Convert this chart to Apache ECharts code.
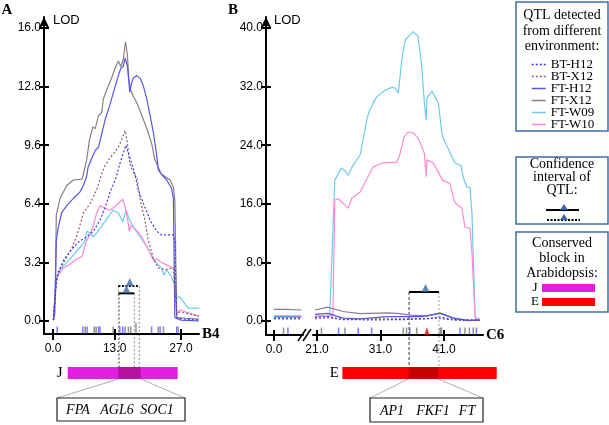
<!DOCTYPE html>
<html><head><meta charset="utf-8">
<script src="https://cdn.jsdelivr.net/npm/echarts@6/dist/echarts.min.js"></script>
<style>html,body{margin:0;padding:0;background:#fff}#c{width:609px;height:425px}</style>
</head><body><div id="c"></div>
<script>
// ===== DATA =====
const seriesNames = ['BT-H12','BT-X12','FT-H12','FT-X12','FT-W09','FT-W10'];
// Panel A (B4) : [cM, LOD]
const A_BT_H12 = [[0.1,0.05],[0.8,2.4],[2.2,3.3],[3.9,3.9],[5.3,4.3],[7.1,4.6],[8.5,4.9],[9.9,5.5],[11.0,6.2],[12.0,7.0],[13.4,7.9],[14.1,8.6],[14.8,9.15],[15.4,9.6],[15.9,9.15],[16.6,8.6],[17.3,8.0],[18.0,7.15],[19.1,6.4],[20.5,5.5],[21.9,4.9],[22.9,4.7],[25.4,4.7],[25.7,4.3],[26.1,0.15],[28.0,0.1],[30.8,0.05]];
const A_BT_X12 = [[0.1,0.05],[0.5,1.7],[1.1,2.7],[2.5,3.3],[4.0,4.0],[5.1,4.7],[6.4,5.9],[7.8,6.4],[9.2,7.15],[10.3,8.05],[11.0,8.5],[12.0,8.9],[13.1,9.25],[13.8,9.5],[14.5,9.9],[15.2,10.4],[15.7,9.7],[16.2,8.6],[16.9,8.15],[17.7,7.8],[18.4,6.6],[19.4,5.5],[20.1,4.4],[21.2,3.4],[22.2,2.9],[23.6,2.8],[25.4,2.9],[26.1,0.4],[26.8,0.5],[30.8,0.27]];
const A_FT_H12 = [[0.1,0.05],[0.5,1.7],[0.7,4.4],[1.1,5.1],[1.8,5.9],[2.9,6.3],[4.3,6.7],[5.7,7.05],[6.4,7.4],[7.1,7.9],[7.4,8.4],[8.2,8.9],[8.9,9.3],[9.6,9.5],[10.3,10.25],[11.0,11.0],[12.0,11.8],[13.1,12.8],[13.8,13.4],[14.3,13.8],[14.8,13.9],[15.2,14.35],[15.7,13.9],[16.2,12.5],[16.6,13.0],[16.9,13.25],[17.7,13.4],[18.4,13.25],[19.1,12.8],[19.8,12.1],[20.5,11.2],[21.2,10.25],[21.9,9.0],[22.2,8.25],[22.9,8.0],[24.0,7.7],[25.0,7.25],[25.4,6.7],[25.7,0.2],[27.0,0.05],[30.8,0.0]];
const A_FT_X12 = [[0.06,0.05],[0.4,0.4],[0.7,5.8],[1.5,6.7],[2.9,7.4],[4.3,7.7],[6.1,7.75],[6.4,8.0],[7.1,8.8],[7.7,9.9],[8.4,10.6],[8.9,10.5],[9.6,11.2],[10.3,11.4],[10.6,12.1],[11.3,12.6],[12.4,13.3],[13.1,13.8],[13.8,14.2],[14.3,13.9],[14.8,14.25],[15.3,15.25],[15.7,14.5],[16.0,13.2],[16.4,12.6],[16.9,12.3],[17.7,11.9],[18.7,11.25],[19.8,10.5],[20.8,9.7],[21.5,8.8],[22.2,8.4],[22.9,8.0],[23.6,7.9],[24.7,7.7],[25.4,7.3],[25.7,6.6],[26.1,0.2],[28.0,0.15],[30.8,0.1]];
const A_FT_W09 = [[0.05,0.05],[0.4,1.15],[0.8,2.35],[1.5,2.8],[2.9,3.2],[4.3,3.6],[6.1,4.15],[6.8,4.4],[7.1,4.9],[7.8,4.8],[8.5,4.6],[9.2,4.8],[10.6,5.3],[11.7,5.7],[12.7,6.05],[13.8,5.9],[14.7,5.4],[15.4,6.05],[16.2,5.5],[17.3,5.0],[18.4,4.6],[19.8,4.05],[21.2,3.4],[22.2,3.05],[22.9,2.9],[23.4,2.5],[24.0,2.8],[25.0,2.4],[25.7,1.95],[26.1,1.3],[26.8,1.3],[27.2,1.4],[27.8,0.95],[28.5,0.7],[30.9,0.7]];
const A_FT_W10 = [[0.1,0.05],[0.5,1.7],[0.8,2.4],[2.2,2.9],[3.6,3.1],[5.0,3.4],[6.1,3.5],[6.4,3.8],[7.1,4.4],[7.8,4.7],[8.5,5.2],[9.2,5.9],[9.9,6.3],[11.0,6.15],[12.0,6.05],[13.1,6.25],[14.1,6.5],[14.7,6.65],[15.2,6.25],[15.7,5.6],[16.1,4.9],[16.4,5.2],[17.3,5.05],[18.4,4.7],[19.4,4.25],[20.5,3.7],[21.2,3.3],[21.9,3.4],[22.6,3.25],[24.0,3.05],[25.4,2.9],[25.7,2.7],[26.1,0.4],[26.8,0.6],[30.8,0.25]];
// Panel B (C6), left segment (0 - 4.3 cM)
const BL_BT_H12 = [[0,0.4],[4.3,0.4]];
const BL_BT_X12 = [[0,0.3],[4.3,0.3]];
const BL_FT_H12 = [[0,0.55],[4.3,0.55]];
const BL_FT_X12 = [[0,1.6],[2.0,1.6],[4.3,1.5]];
const BL_FT_W09 = [[0,0.65],[4.3,0.65]];
const BL_FT_W10 = [[0,0.75],[4.3,0.7]];
// Panel B (C6), right segment (20.7 - 46.6 cM)
const BR_BT_H12 = [[20.7,0.5],[22.7,0.6],[25.0,0.2],[30.0,0.15],[35.0,0.2],[38.0,0.3],[40.2,0.55],[42.5,0.2],[46.6,0.1]];
const BR_BT_X12 = [[20.7,0.3],[22.7,0.45],[25.0,0.25],[30.0,0.3],[35.0,0.3],[40.0,0.35],[43.0,0.1],[46.6,0.1]];
const BR_FT_H12 = [[20.7,0.9],[22.7,1.05],[25.1,0.4],[27.8,0.3],[32.1,0.6],[35.7,0.6],[37.5,0.6],[40.4,1.05],[42.5,0.4],[44.7,0.05],[46.6,0.15]];
const BR_FT_X12 = [[20.7,1.5],[22.7,1.9],[25.1,1.3],[27.8,1.0],[32.1,1.1],[34.1,1.0],[35.7,0.8],[38.4,0.7],[40.4,1.1],[42.5,0.4],[44.7,0.1],[46.6,0.1]];
const BR_FT_W09 = [[20.7,0.6],[23.0,0.7],[23.8,19.2],[24.8,20.9],[25.4,20.5],[25.9,19.9],[26.5,21.0],[27.8,22.7],[28.9,27.7],[29.3,28.8],[30.4,30.6],[31.7,31.5],[32.8,31.9],[33.3,31.8],[33.8,31.1],[34.4,36.0],[34.9,38.4],[35.6,39.0],[36.1,39.5],[36.9,38.9],[37.5,34.7],[37.9,29.8],[38.2,27.4],[38.3,30.4],[39.1,31.4],[40.1,29.8],[40.7,25.4],[41.5,23.8],[41.8,24.0],[42.7,21.6],[43.7,21.2],[44.0,19.7],[44.6,18.3],[45.1,18.2],[45.4,14.7],[45.9,0.5],[46.2,0.1],[46.6,0.35]];
const BR_FT_W10 = [[20.7,0.7],[23.5,0.7],[23.8,16.5],[24.3,16.7],[25.1,16.1],[25.9,15.4],[26.5,16.8],[27.8,17.6],[28.9,19.5],[29.8,21.0],[31.4,21.6],[33.6,21.7],[34.1,22.9],[34.7,25.1],[35.3,25.8],[36.1,25.7],[36.9,25.0],[37.5,23.8],[37.9,22.9],[38.2,19.7],[38.3,22.0],[39.3,21.6],[39.9,20.6],[40.8,19.2],[41.9,18.8],[42.7,16.2],[43.8,15.4],[44.3,12.8],[45.1,12.7],[45.4,9.3],[45.9,0.5],[46.6,0.2]];
// Markers (cM)
const A_markBlue = [0.9,6.3,7.2,9.6,9.9,14.1,14.7,15.2,20.8,22.6,26.1];
const A_markGray = [6.8,8.7,9.1,12.7,15.9,16.4,22.2,23.3,26.4];
const A_markTall = [17.5];
const BL_markBlue = [2.2];
const BL_markGray = [1.5];
const BR_markBlue = [24.4,27.5,29.6,35.6,43.5,46.1];
const BR_markGray = [21.7,25.4,34.6,35.1,36.7,40.4,40.6,44.3,45.0,45.6];
const BR_markRed = [38.3];
// Confidence intervals [start, end, LOD level, peak]
const A_CI_FT = [13.8, 17.15, 1.51, 15.5];
const A_CI_BT = [13.8, 18.2, 1.91, 16.2];
const B_CI_FT = [35.5, 40.2, 3.96, 38.1];
// Conserved blocks [start, end] and highlighted part (cM)
const blockJ = [3.1, 26.3], blockJdark = [13.8, 18.5];
const blockE = [25.0, 49.3], blockEdark = [35.4, 40.1];
// Tick labels
const A_xTicks = [0, 13, 27];
const BL_xTicks = [0];
const BR_xTicks = [21, 31, 41];
const A_yTicks = [0, 3.2, 6.4, 9.6, 12.8, 16.0];
const B_yTicks = [0, 8, 16, 24, 32, 40];
const genesA = ['FPA','AGL6','SOC1'];
const genesB = ['AP1','FKF1','FT'];

// ===== STYLE =====
const colors = {'BT-H12':'#3a3af0','BT-X12':'#8a5e6c','FT-H12':'#5656e6','FT-X12':'#8c7c8a','FT-W09':'#6ccaec','FT-W10':'#ff88d6'};
const dashed = {'BT-H12':true,'BT-X12':true};
const AX = {
  A: {min:-1.9, max:30.8}, BL:{min:-1.26, max:4.57}, BR:{min:20.37, max:47.14},
  Ay:{min:-0.71, max:16.6}, By:{min:-1.91, max:41.5}
};
const markY_A = -0.49, markYtall_A = -0.38, markY_B = -1.37;
const labelFont = {fontFamily:'Liberation Sans', fontSize:12, color:'#000'};

function xAxes(grid, rng, ticks, name){
  return [
    {type:'value', gridIndex:grid, position:'bottom', min:rng.min, max:rng.max, name:name||'', nameLocation:'end', nameGap:3,
     nameTextStyle:{fontFamily:'Liberation Serif', fontWeight:'bold', fontSize:15, color:'#000', verticalAlign:'middle'},
     axisLine:{onZero:false, lineStyle:{color:'#000', width:2}},
     axisTick:{customValues:ticks, length:6, lineStyle:{color:'#000', width:2}},
     axisLabel:Object.assign({customValues:ticks, margin:9, formatter:v=>Number(v).toFixed(1)}, labelFont),
     splitLine:{show:false}},
    {type:'value', gridIndex:grid, position:'bottom', min:rng.min, max:rng.max,
     axisLine:{show:false, onZero:false},
     axisTick:{customValues:ticks, inside:true, length:5, lineStyle:{color:'#000', width:2}},
     axisLabel:{show:false}, splitLine:{show:false}}
  ];
}
function yAxes(grid, rng, ticks, show){
  if(!show) return [{type:'value', gridIndex:grid, position:'left', min:rng.min, max:rng.max, show:false, splitLine:{show:false}}];
  return [
    {type:'value', gridIndex:grid, position:'left', min:rng.min, max:rng.max,
     axisLine:{onZero:false, lineStyle:{color:'#000', width:2}, symbol:['none','arrow'], symbolSize:[8,11]},
     axisTick:{customValues:ticks, length:5, lineStyle:{color:'#000', width:2}},
     axisLabel:Object.assign({customValues:ticks, margin:3, formatter:v=>Number(v).toFixed(1)}, labelFont),
     splitLine:{show:false}},
    {type:'value', gridIndex:grid, position:'left', min:rng.min, max:rng.max,
     axisLine:{show:false, onZero:false},
     axisTick:{customValues:ticks, inside:true, length:5, lineStyle:{color:'#000', width:2}},
     axisLabel:{show:false}, splitLine:{show:false}}
  ];
}

const xAxis = [].concat(xAxes(0, AX.A, A_xTicks, 'B4'), xAxes(1, AX.BL, BL_xTicks), xAxes(2, AX.BR, BR_xTicks, 'C6'));
const yAxis = [].concat(yAxes(0, AX.Ay, A_yTicks, true), yAxes(1, AX.By, B_yTicks, true), yAxes(2, AX.By, B_yTicks, false));
// axis index pairs: A -> x0/y0, BL -> x2/y2, BR -> x4/y4

const curveSets = [
  {xi:0, yi:0, data:{'BT-H12':A_BT_H12,'BT-X12':A_BT_X12,'FT-H12':A_FT_H12,'FT-X12':A_FT_X12,'FT-W09':A_FT_W09,'FT-W10':A_FT_W10}},
  {xi:2, yi:2, data:{'BT-H12':BL_BT_H12,'BT-X12':BL_BT_X12,'FT-H12':BL_FT_H12,'FT-X12':BL_FT_X12,'FT-W09':BL_FT_W09,'FT-W10':BL_FT_W10}},
  {xi:4, yi:4, data:{'BT-H12':BR_BT_H12,'BT-X12':BR_BT_X12,'FT-H12':BR_FT_H12,'FT-X12':BR_FT_X12,'FT-W09':BR_FT_W09,'FT-W10':BR_FT_W10}}
];
const drawOrder = ['FT-W09','FT-W10','FT-X12','FT-H12','BT-X12','BT-H12'];
const series = [];
curveSets.forEach(cs=>{
  drawOrder.forEach(n=>{
    series.push({type:'line', name:n, xAxisIndex:cs.xi, yAxisIndex:cs.yi, data:cs.data[n], symbol:'none',
      lineStyle:{color:colors[n], width:1.2, type: dashed[n] ? [2,2] : 'solid'}, itemStyle:{color:colors[n]}, silent:true});
  });
});
function markers(xi, yi, arr, y, color, size, sym){
  return {type:'scatter', xAxisIndex:xi, yAxisIndex:yi, data:arr.map(v=>[v,y]), symbol:sym||'rect', symbolSize:size,
    itemStyle:{color:color}, silent:true, z:3};
}
series.push(markers(0,0,A_markBlue,markY_A,'#5a5aff',[1.5,7]));
series.push(markers(0,0,A_markGray,markY_A,'#777',[1.5,7]));
series.push(markers(0,0,A_markTall,markYtall_A,'#777',[1.5,11]));
series.push(markers(2,2,BL_markBlue,markY_B,'#5a5aff',[1.5,7]));
series.push(markers(2,2,BL_markGray,markY_B,'#777',[1.5,7]));
series.push(markers(4,4,BR_markBlue,markY_B,'#5a5aff',[1.5,7]));
series.push(markers(4,4,BR_markGray,markY_B,'#777',[1.5,7]));
series.push(markers(4,4,BR_markRed,markY_B,'#e00000',[5,8],'triangle'));
function ci(xi, yi, c, dotted){
  return [
    {type:'line', xAxisIndex:xi, yAxisIndex:yi, data:[[c[0],c[2]],[c[1],c[2]]], symbol:'none', silent:true, z:4,
     lineStyle:{color:'#000', width:2, type: dotted ? [2,1.5] : 'solid'}},
    {type:'scatter', xAxisIndex:xi, yAxisIndex:yi, data:[[c[3],c[2]]], symbol:'triangle', symbolSize:[8,8],
     symbolOffset:[0,-4], itemStyle:{color:'#3b68a3'}, silent:true, z:5}
  ];
}
series.push(...ci(0,0,A_CI_BT,true), ...ci(0,0,A_CI_FT,false), ...ci(4,4,B_CI_FT,false));

const option = {
  animation:false,
  backgroundColor:'#fff',
  grid:[
    {left:44, top:17, width:155, height:317},
    {left:266, top:17, width:37, height:318},
    {left:313, top:17, width:170, height:318}
  ],
  xAxis, yAxis, series,
  legend:{data:seriesNames, orient:'vertical', left:531, top:58, padding:0, itemWidth:14, itemHeight:6, itemGap:-1,
    selectedMode:false, itemStyle:{opacity:0}, lineStyle:{width:1.5},
    textStyle:{fontFamily:'Liberation Serif', fontSize:13, color:'#000'}}
};
const chart = echarts.init(document.getElementById('c'));
chart.setOption(option);

// ===== ANNOTATIONS =====
const pA = (x,y)=>chart.convertToPixel({xAxisIndex:0, yAxisIndex:0},[x,y]);
const pB = (x,y)=>chart.convertToPixel({xAxisIndex:4, yAxisIndex:4},[x,y]);
const serif = 'Liberation Serif';
const g = [];
function txt(x,y,s,font,align){ g.push({type:'text', x:x, y:y, silent:true,
  style:{text:s, font:font, fill:'#000', align:align||'center', textAlign:align||'center', verticalAlign:'middle', textVerticalAlign:'middle'}}); }
function ln(x1,y1,x2,y2,stroke,w,dash){ g.push({type:'line', silent:true, shape:{x1,y1,x2,y2}, style:{stroke, lineWidth:w, lineDash:dash||null}}); }
function rect(x,y,w,h,fill,stroke,lw){ g.push({type:'rect', silent:true, shape:{x,y,width:w,height:h}, style:{fill:fill||'none', stroke:stroke||null, lineWidth:lw||1}}); }
function tri(cx,tipY,w,h,fill){ g.push({type:'polygon', silent:true, shape:{points:[[cx,tipY],[cx-w/2,tipY+h],[cx+w/2,tipY+h]]}, style:{fill}}); }

// panel letters & LOD
txt(7,10,'A','bold 15px '+serif); txt(233,10,'B','bold 15px '+serif);
txt(53,20,'LOD','13px Liberation Sans','left'); txt(274,20,'LOD','13px Liberation Sans','left');
// axis break
ln(298,341,306,329,'#000',1.5); ln(303,341,311,329,'#000',1.5);

const barTop = 367, barH = 12, boxTop = 398;
// Panel A block
{
  const x0 = pA(blockJ[0],0)[0], x1 = pA(blockJ[1],0)[0];
  const d0 = pA(blockJdark[0],0)[0], d1 = pA(blockJdark[1],0)[0];
  rect(x0, barTop, x1-x0, barH, '#e41ee0');
  rect(d0, barTop, d1-d0, barH, '#b8109e');
  txt(x0-8, barTop+6, 'J', '15px '+serif);
  const yBT = pA(0,A_CI_BT[2])[1], yFT = pA(0,A_CI_FT[2])[1];
  ln(pA(A_CI_BT[0],0)[0], yBT, pA(A_CI_BT[0],0)[0], barTop, '#8a8a8a', 1, [2,2]);
  ln(pA(A_CI_FT[0],0)[0]+1, yFT, pA(A_CI_FT[0],0)[0]+1, barTop, '#8a8a8a', 1, [2,2]);
  ln(pA(A_CI_FT[1],0)[0], yFT, pA(A_CI_FT[1],0)[0], barTop, '#8a8a8a', 1, [2,2]);
  ln(pA(A_CI_BT[1],0)[0], yBT, pA(A_CI_BT[1],0)[0], barTop, '#8a8a8a', 1, [2,2]);
  const bx0 = 57, bx1 = 185;
  ln(d0, barTop+barH, bx0, boxTop, '#999', 0.8); ln(d1, barTop+barH, bx1, boxTop, '#999', 0.8);
  rect(bx0, boxTop, bx1-bx0, 23, '#fff', '#222', 1.2);
  txt(78, 410, genesA[0], 'italic 14px '+serif); txt(117, 410, genesA[1], 'italic 14px '+serif); txt(157, 410, genesA[2], 'italic 14px '+serif);
}
// Panel B block
{
  const x0 = pB(blockE[0],0)[0], x1 = pB(blockE[1],0)[0];
  const d0 = pB(blockEdark[0],0)[0], d1 = pB(blockEdark[1],0)[0];
  rect(x0, barTop, x1-x0, barH, '#ff0000');
  rect(d0, barTop, d1-d0, barH, '#c80000');
  txt(x0-8, barTop+6, 'E', '15px '+serif);
  const yC = pB(0,B_CI_FT[2])[1];
  ln(pB(B_CI_FT[0],0)[0], yC, pB(B_CI_FT[0],0)[0], barTop, '#333', 1, [3,2]);
  ln(pB(B_CI_FT[1],0)[0], yC, pB(B_CI_FT[1],0)[0], barTop, '#999', 1, [2,2]);
  const bx0 = 370, bx1 = 483;
  ln(d0, barTop+barH, bx0, boxTop, '#999', 0.8); ln(d1, barTop+barH, bx1, boxTop, '#999', 0.8);
  rect(bx0, boxTop, bx1-bx0, 24, '#fff', '#222', 1.2);
  txt(392, 411, genesB[0], 'italic 14px '+serif); txt(433, 411, genesB[1], 'italic 14px '+serif); txt(467, 411, genesB[2], 'italic 14px '+serif);
}
// Legend boxes
const bc = '#3f6fa6';
rect(516, 2, 92, 129, null, bc, 1.5);
txt(562,15,'QTL detected','14px '+serif); txt(562,31,'from different','14px '+serif); txt(562,46,'environment:','14px '+serif);
rect(516, 157, 92, 67, null, bc, 1.5);
txt(562,164,'Confidence','14px '+serif); txt(562,177,'interval of','14px '+serif); txt(562,190,'QTL:','14px '+serif);
ln(546,210,579,210,'#000',2); tri(564,204,8,6,'#3b68a3');
ln(547,220,580,220,'#000',2,[2,1.5]); tri(564,214,8,6,'#3b68a3');
rect(516, 232, 92, 80, null, bc, 1.5);
txt(562,243,'Conserved','14px '+serif); txt(562,258,'block in','14px '+serif); txt(562,273,'Arabidopsis:','14px '+serif);
txt(535,288,'J','13px '+serif); rect(542,284,53,8,'#e41ee0');
txt(535,302,'E','13px '+serif); rect(542,298,53,8,'#ff0000');

chart.setOption({graphic:{elements:g}});
</script>
</body></html>
